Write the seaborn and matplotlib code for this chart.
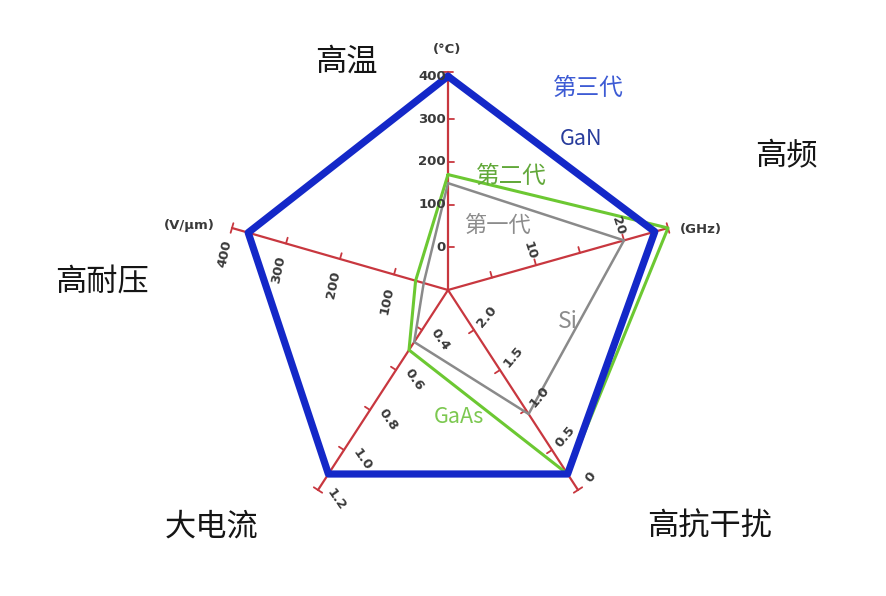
import numpy as np
import pandas as pd
import matplotlib
matplotlib.use('Agg')
import matplotlib.pyplot as plt
import seaborn as sns

# five spokes, each with its own scale
axis_names = ['高温', '高频', '高抗干扰', '大电流', '高耐压']
axis_lo = [-100, 0, 2.5, 0.2, 0]      # value at the centre
axis_hi = [410, 25, 0, 1.2, 400]      # value at the tip
axis_ticks = [[0, 100, 200, 300], [5, 10, 15, 20], [2.0, 1.5, 1.0, 0.5],
              [0.4, 0.6, 0.8, 1.0], [100, 200, 300]]
axis_tick_labels = [['0', '100', '200', '300', '400'], ['10', '20'],
                    ['2.0', '1.5', '1.0', '0.5', '0'],
                    ['0.4', '0.6', '0.8', '1.0', '1.2'],
                    ['100', '200', '300', '400']]
axis_label_values = [[0, 100, 200, 300, 400], [10, 20], [2.0, 1.5, 1.0, 0.5, 0],
                     [0.4, 0.6, 0.8, 1.0, 1.2], [100, 200, 300, 400]]
axis_units = ['(°C)', '(GHz)', '', '', '(V/μm)']

# material values per spoke
gan = [400, 23.5, 0.2, 1.12, 370]
gaas = [170, 25, 0.2, 0.5, 60]
si = [150, 20, 0.95, 0.46, 45]

# geometry of the drawing (pixel space)
W, H = 886, 596
centre = np.array([448, 290])
tips = np.array([[448, 72], [668, 228], [578, 490], [318, 490], [232, 228]])
tick_side = [1, -1, 1, 1, 1]
label_off = [(-2, 0), (-6, -15), (13, -13), (18, 10), (-7, 26)]
label_rot = [0, -72, 50, -55, 78]
unit_pos = [(447, 50), (701, 229), None, None, (189, 226)]
name_pos = [(346, 62), (786, 155), (710, 527), (212, 527), (102, 283)]

red = '#c8373f'
blue = '#1428c8'
green = '#6cc832'
grey = '#8a8a8a'


def to_xy(i, v):
    frac = (v - axis_lo[i]) / (axis_hi[i] - axis_lo[i])
    return centre + frac * (tips[i] - centre)


def polygon(values, name):
    pts = [to_xy(i, v) for i, v in enumerate(values)]
    pts.append(pts[0])
    pts = np.array(pts)
    return pd.DataFrame({'x': pts[:, 0], 'y': pts[:, 1], 'order': range(len(pts)), 'name': name})


sns.set_style('white')
plt.rcParams['font.family'] = ['Noto Sans CJK SC', 'DejaVu Sans']

fig = plt.figure(figsize=(W / 100, H / 100), dpi=100)
ax = fig.add_axes([0, 0, 1, 1])
ax.set_xlim(0, W)
ax.set_ylim(H, 0)
ax.set_aspect('equal')
ax.axis('off')

# spokes with ticks and end caps
for i in range(5):
    u = (tips[i] - centre) / np.linalg.norm(tips[i] - centre)
    p = np.array([-u[1], u[0]]) * tick_side[i]
    spoke = pd.DataFrame({'x': [centre[0], tips[i][0]], 'y': [centre[1], tips[i][1]]})
    sns.lineplot(data=spoke, x='x', y='y', sort=False, estimator=None, color=red, linewidth=1.6, ax=ax)
    for t in axis_ticks[i]:
        a = to_xy(i, t)
        ax.plot([a[0], a[0] + 6 * p[0]], [a[1], a[1] + 6 * p[1]], color=red, linewidth=1.3)
    ax.plot([tips[i][0] - 5 * p[0], tips[i][0] + 5 * p[0]],
            [tips[i][1] - 5 * p[1], tips[i][1] + 5 * p[1]], color=red, linewidth=1.3)
    for v, lab in zip(axis_label_values[i], axis_tick_labels[i]):
        a = to_xy(i, v)
        ax.text(a[0] + label_off[i][0], a[1] + label_off[i][1], lab, fontsize=9.5,
                fontweight='bold', color='#3a3a3a', rotation=label_rot[i],
                ha='right' if i == 0 else 'center', va='center', family='DejaVu Sans')
    if unit_pos[i] is not None:
        ax.text(unit_pos[i][0], unit_pos[i][1], axis_units[i], fontsize=9.5, fontweight='bold',
                color='#3a3a3a', ha='center', va='center', family='DejaVu Sans')
    ax.text(name_pos[i][0], name_pos[i][1], axis_names[i], fontsize=22.5, color='#151515',
            ha='center', va='center')

# material polygons
sns.lineplot(data=polygon(si, 'Si'), x='x', y='y', sort=False, estimator=None,
             color=grey, linewidth=1.8, ax=ax)
sns.lineplot(data=polygon(gaas, 'GaAs'), x='x', y='y', sort=False, estimator=None,
             color=green, linewidth=2.2, ax=ax)
sns.lineplot(data=polygon(gan, 'GaN'), x='x', y='y', sort=False, estimator=None,
             color=blue, linewidth=5.2, ax=ax)

# series annotations
ax.text(588, 88, '第三代', fontsize=17, color='#3d5bd4', ha='center', va='center')
ax.text(581, 139, 'GaN', fontsize=15.5, color='#283c9c', ha='center', va='center')
ax.text(511, 176, '第二代', fontsize=17, color='#62a83a', ha='center', va='center')
ax.text(497, 225, '第一代', fontsize=16, color='#8c8c8c', ha='center', va='center')
ax.text(568, 322, 'Si', fontsize=16.5, color='#8c8c8c', ha='center', va='center')
ax.text(459, 417, 'GaAs', fontsize=15.5, color='#7cc850', ha='center', va='center')

ax.set_xlabel('')
ax.set_ylabel('')
fig.savefig('out.png', dpi=100)
